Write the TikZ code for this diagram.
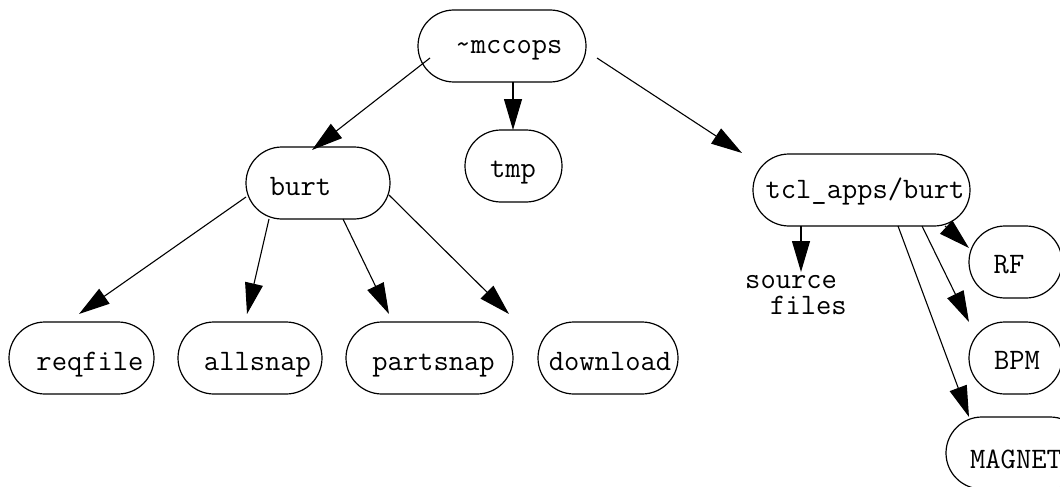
\documentclass[tikz,border=0pt]{standalone}
\usepackage{fontspec}
\usetikzlibrary{arrows.meta}
\tikzset{
  dirbox/.style={draw, line width=1.2pt, rounded corners=36pt, minimum height=72pt, inner sep=0pt},
  dirname/.style={anchor=base, inner sep=0pt, font=\ttfamily\fontsize{29.7}{26}\selectfont},
  link/.style={line width=1.1pt, -{Triangle[length=31pt,width=18pt]}}
}
\begin{document}
\begin{tikzpicture}[x=1pt, y=-1pt]
\useasboundingbox (0,0) rectangle (1060,487);
\clip (0,0) rectangle (1060,487);

% directory boxes
\node[dirbox, minimum width=168pt] (mccops)   at (502,46)    {};
\node[dirbox, minimum width=97pt]  (tmp)      at (513.5,166) {};
\node[dirbox, minimum width=144pt] (burt)     at (318,183)   {};
\node[dirbox, minimum width=217pt] (tcl)      at (861.5,190) {};
\node[dirbox, minimum width=145pt] (reqfile)  at (81.5,358)  {};
\node[dirbox, minimum width=144pt] (allsnap)  at (250,358)   {};
\node[dirbox, minimum width=167pt] (partsnap) at (429.5,358) {};
\node[dirbox, minimum width=140pt] (download) at (608,358)   {};
\node[dirbox, minimum width=93pt]  (rf)       at (1015.5,262){};
\node[dirbox, minimum width=93pt]  (bpm)      at (1015.5,358){};
\node[dirbox, minimum width=140pt] (magnet)   at (1016,453)  {};

% directory names
\node[dirname] (mccops-l)   at (509,53)    {\char`\~mccops};
\node[dirname] (tmp-l)      at (513,177)   {tmp};
\node[dirname] (burt-l)     at (300.5,195) {burt};
\node[dirname] (tcl-l)      at (865,198)   {tcl\_apps/burt};
\node[dirname] (reqfile-l)  at (90,370)    {reqfile};
\node[dirname] (allsnap-l)  at (257.5,370) {allsnap};
\node[dirname] (partsnap-l) at (433.5,370) {partsnap};
\node[dirname] (download-l) at (610,370)   {download};
\node[dirname] (rf-l)       at (1009,273)  {RF};
\node[dirname] (bpm-l)      at (1017,369)  {BPM};
\node[dirname] (magnet-l)   at (1016,468)  {MAGNET};
\node[dirname, anchor=north west, align=left] (source) at (745,275)
  {source\\\hspace*{25pt}files};

% links
\draw[link] ([shift={(-72,12)}]mccops.center) -- ([shift={(-6,-33)}]burt.center);
\draw[link] ([shift={(11,36)}]mccops.center)  -- ([shift={(-0.5,-36)}]tmp.center);
\draw[link] ([shift={(95,12)}]mccops.center)  -- ([shift={(-119.5,-37)}]tcl.center);
\draw[link] ([shift={(-72,14)}]burt.center)   -- ([shift={(-2.5,-44)}]reqfile.center);
\draw[link] ([shift={(-49,36)}]burt.center)   -- ([shift={(-3,-44)}]allsnap.center);
\draw[link] ([shift={(25,36)}]burt.center)    -- ([shift={(-40.5,-44)}]partsnap.center);
\draw[link] ([shift={(71,12)}]burt.center)    -- ([shift={(-99,-44)}]download.center);
\draw[link] ([shift={(-60.5,36)}]tcl.center)  -- ([shift={(56,-3)}]source.north west);
\draw[link] ([shift={(83.5,36)}]tcl.center)   -- ([shift={(-46.5,-14)}]rf.center);
\draw[link] ([shift={(60.5,36)}]tcl.center)   -- ([shift={(-46.5,-36)}]bpm.center);
\draw[link] ([shift={(36.5,36)}]tcl.center)   -- ([shift={(-47,-36)}]magnet.center);
\end{tikzpicture}
\end{document}
